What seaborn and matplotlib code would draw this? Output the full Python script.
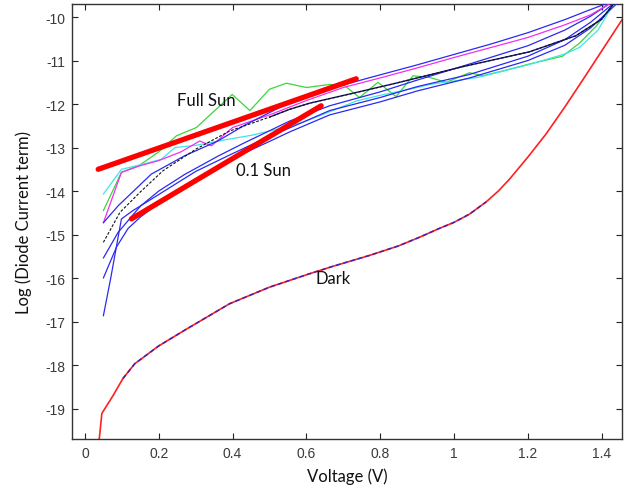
import numpy as np
import pandas as pd
import matplotlib
matplotlib.use("Agg")
import matplotlib.pyplot as plt
import seaborn as sns

# ---------------- data ----------------
b1_x = [0.05, 0.09, 0.18, 0.27, 0.36, 0.43, 0.555, 0.66, 0.76, 0.9, 1.0, 1.1, 1.2, 1.3, 1.36, 1.41]
b1_y = [-14.73, -14.34, -13.61, -13.19, -12.85, -12.50, -11.96, -11.66, -11.42, -11.10, -10.86, -10.62, -10.36, -10.06, -9.86, -9.70]

b2_x = [0.05, 0.09, 0.15, 0.2, 0.27, 0.36, 0.43, 0.555, 0.663, 0.8, 0.9, 1.042, 1.2, 1.3, 1.37, 1.42]
b2_y = [-15.54, -14.95, -14.35, -14.0, -13.62, -13.20, -12.90, -12.39, -12.04, -11.72, -11.45, -11.08, -10.66, -10.30, -9.98, -9.70]

b3_x = [0.05, 0.086, 0.117, 0.15, 0.2, 0.3, 0.4, 0.5, 0.555, 0.663, 0.8, 0.9, 1.042, 1.2, 1.3, 1.37, 1.44]
b3_y = [-16.0, -15.28, -14.86, -14.60, -14.28, -13.72, -13.25, -12.86, -12.64, -12.25, -11.95, -11.70, -11.40, -11.00, -10.65, -10.25, -9.70]

b4_x = [0.05, 0.07, 0.086, 0.099, 0.13, 0.2, 0.3, 0.39, 0.48, 0.568, 0.663, 0.8, 0.9, 1.042, 1.2, 1.3, 1.37, 1.43]
b4_y = [-16.87, -16.0, -15.25, -14.64, -14.45, -14.08, -13.55, -13.18, -12.82, -12.50, -12.15, -11.85, -11.60, -11.32, -10.90, -10.52, -10.12, -9.70]

blk_x = [0.05, 0.095, 0.149, 0.212, 0.302, 0.392, 0.50, 0.555, 0.609, 0.717, 0.843, 1.024, 1.204, 1.33, 1.40, 1.43]
blk_y = [-15.18, -14.49, -14.03, -13.53, -13.03, -12.62, -12.30, -12.12, -11.98, -11.77, -11.52, -11.14, -10.80, -10.43, -10.05, -9.72]

mag_x = [0.05, 0.099, 0.149, 0.2, 0.26, 0.311, 0.343, 0.40, 0.5, 0.6, 0.7, 0.8, 0.9, 1.0, 1.1, 1.2, 1.3, 1.37, 1.42]
mag_y = [-14.73, -13.57, -13.42, -13.30, -13.10, -12.85, -12.96, -12.54, -12.25, -11.92, -11.62, -11.40, -11.17, -10.93, -10.70, -10.47, -10.18, -9.95, -9.70]

cyn_x = [0.05, 0.099, 0.149, 0.207, 0.244, 0.30, 0.388, 0.45, 0.52, 0.59, 0.645, 0.735, 0.8, 0.9, 0.934, 1.0, 1.069, 1.2, 1.3, 1.34, 1.39, 1.43]
cyn_y = [-14.07, -13.5, -13.4, -13.27, -13.0, -12.95, -12.81, -12.72, -12.58, -12.42, -12.24, -11.93, -11.80, -11.62, -11.55, -11.47, -11.38, -11.10, -10.85, -10.70, -10.30, -9.72]

grn_x = [0.05, 0.099, 0.149, 0.2, 0.248, 0.302, 0.399, 0.447, 0.50, 0.546, 0.60, 0.663, 0.704, 0.744, 0.794, 0.843, 0.889, 0.934, 0.979, 1.042, 1.078, 1.132, 1.204, 1.294, 1.34, 1.385, 1.43]
grn_y = [-14.45, -13.57, -13.40, -13.10, -12.73, -12.54, -11.78, -12.15, -11.66, -11.52, -11.62, -11.55, -11.58, -11.85, -11.50, -11.83, -11.35, -11.39, -11.50, -11.28, -11.35, -11.24, -11.08, -10.90, -10.60, -10.21, -9.72]

dark_x = [0.035, 0.039, 0.046, 0.075, 0.103, 0.135, 0.2, 0.276, 0.35, 0.392, 0.5, 0.609, 0.672, 0.771, 0.85, 0.907, 0.96, 1.0, 1.042, 1.087, 1.12, 1.15, 1.2, 1.25, 1.3, 1.35, 1.4, 1.46]
dark_y = [-19.75, -19.69, -19.11, -18.72, -18.31, -17.97, -17.56, -17.17, -16.80, -16.59, -16.21, -15.90, -15.73, -15.48, -15.26, -15.06, -14.86, -14.72, -14.53, -14.25, -14.00, -13.73, -13.22, -12.68, -12.07, -11.43, -10.78, -10.0]

fit_full_x = [0.036, 0.735]
fit_full_y = [-13.50, -11.42]
fit_tenth_x = [0.126, 0.64]
fit_tenth_y = [-14.64, -12.04]

x_ticks = [0, 0.2, 0.4, 0.6, 0.8, 1.0, 1.2, 1.4]
x_tick_labels = ["0", "0.2", "0.4", "0.6", "0.8", "1", "1.2", "1.4"]
y_ticks = [-19, -18, -17, -16, -15, -14, -13, -12, -11, -10]
y_tick_labels = ["-19", "-18", "-17", "-16", "-15", "-14", "-13", "-12", "-11", "-10"]

# ---------------- figure ----------------
sns.set_theme(style="white")
plt.rcParams["font.family"] = ["Liberation Sans", "DejaVu Sans"]

fig = plt.figure(figsize=(6.27, 4.89), dpi=100)
ax = fig.add_axes([0.1148, 0.1002, 0.8772, 0.8896])

def line(x, y, color, lw=0.9, ls="-", dashes=None, alpha=1.0, z=2):
    df = pd.DataFrame({"x": x, "y": y})
    sns.lineplot(data=df, x="x", y="y", ax=ax, color=color, lw=lw, sort=False,
                 estimator=None, alpha=alpha, zorder=z, linestyle=ls)
    if dashes is not None:
        ax.lines[-1].set_dashes(dashes)

BLUE = "#2a2af0"
# dark curve: red with blue dashed overlay
line(dark_x, dark_y, "#ff2020", lw=1.2, z=2)
dx = np.array(dark_x); dy = np.array(dark_y)
m = (dx >= 0.09) & (dx <= 1.09)
line(dx[m], dy[m], "#3020c0", lw=1.1, ls="--", dashes=(3, 2), alpha=0.9, z=3)

# illuminated curves
line(grn_x, grn_y, "#3ad63a", z=2)
line(cyn_x, cyn_y, "#3ee6e6", z=2)
line(b4_x, b4_y, BLUE, z=3)
line(b3_x, b3_y, BLUE, z=3)
line(b2_x, b2_y, BLUE, z=3)
line(mag_x, mag_y, "#f030f0", z=3)
line(b1_x, b1_y, BLUE, z=3)
bx = np.array(blk_x); by = np.array(blk_y)
mb = bx >= 0.5
line(bx[mb], by[mb], "#1a1a90", lw=1.0, z=3)
line(blk_x, blk_y, "#111111", lw=0.8, ls="--", dashes=(2.5, 1.5), z=4)

# fit lines
line(fit_full_x, fit_full_y, "#ff0000", lw=3.8, z=5)
line(fit_tenth_x, fit_tenth_y, "#ff0000", lw=3.8, z=5)

# annotations
afont = dict(family=["Lato", "DejaVu Sans"], fontsize=12, color="#111111")
ax.text(0.329, -11.91, "Full Sun", ha="center", va="center", **afont)
ax.text(0.484, -13.51, "0.1 Sun", ha="center", va="center", **afont)
ax.text(0.672, -16.0, "Dark", ha="center", va="center", **afont)

ax.set_xlim(-0.035, 1.455)
ax.set_ylim(-19.7, -9.7)
ax.set_xticks(x_ticks)
ax.set_xticklabels(x_tick_labels)
ax.set_yticks(y_ticks)
ax.set_yticklabels(y_tick_labels)
ax.tick_params(direction="in", length=4, width=0.8, color="#222222",
               bottom=True, left=True, top=True, right=True,
               labelsize=10, labelcolor="#3a3a3a", pad=5)
for s in ax.spines.values():
    s.set_color("#333333")
    s.set_linewidth(1.0)
    s.set_visible(True)

lfont = dict(family=["Lato", "DejaVu Sans"], fontsize=12, color="#111111")
ax.set_xlabel("Voltage (V)", labelpad=5.5, **lfont)
ax.set_ylabel("Log (Diode Current term)", labelpad=9, **lfont)

fig.savefig("out.png", dpi=100)
